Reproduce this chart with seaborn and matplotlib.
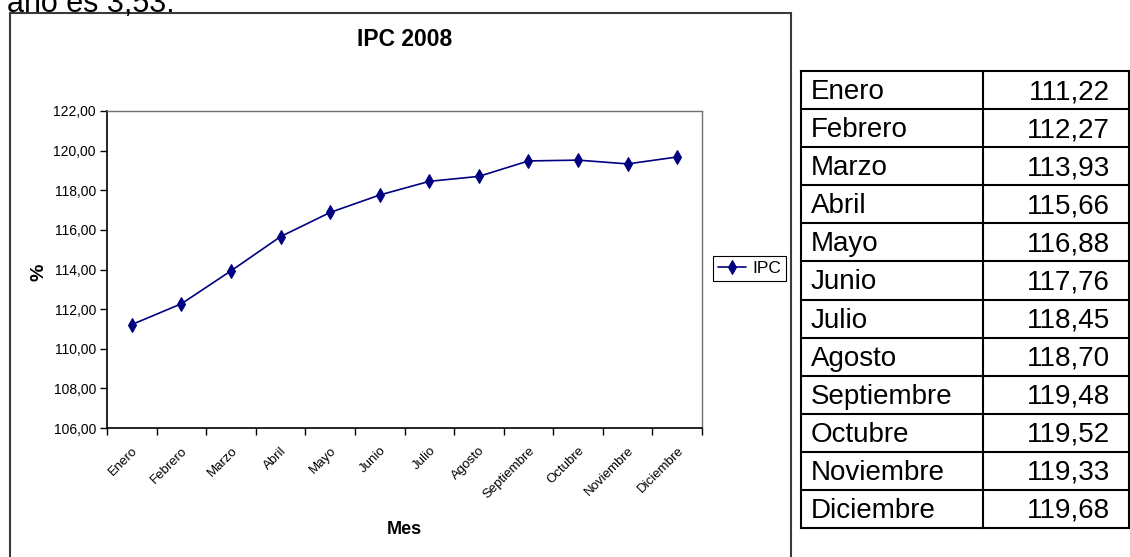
import numpy as np
import pandas as pd
import matplotlib
matplotlib.use("Agg")
import matplotlib.pyplot as plt
import seaborn as sns
from matplotlib import font_manager as fm
from matplotlib.patches import Rectangle
from matplotlib.transforms import ScaledTranslation

# Monthly consumer price index, 2008
meses = ["Enero", "Febrero", "Marzo", "Abril", "Mayo", "Junio", "Julio",
         "Agosto", "Septiembre", "Octubre", "Noviembre", "Diciembre"]
ipc = [111.22, 112.27, 113.93, 115.66, 116.88, 117.76, 118.45,
       118.70, 119.48, 119.52, 119.33, 119.68]
y_ticks = [106, 108, 110, 112, 114, 116, 118, 120, 122]


def coma(v):
    return f"{v:.2f}".replace(".", ",")


y_tick_labels = [coma(v) for v in y_ticks]
ipc_labels = [coma(v) for v in ipc]

sns.set_style("white")
plt.rcParams["font.family"] = ["Liberation Sans", "DejaVu Sans"]
plt.rcParams["text.color"] = "black"
plt.rcParams["axes.labelcolor"] = "black"
plt.rcParams["xtick.color"] = "black"
plt.rcParams["ytick.color"] = "black"
names = {f.name for f in fm.fontManager.ttflist}
NARROW = "Liberation Sans Narrow" if "Liberation Sans Narrow" in names else "Liberation Sans"
TABLE_FONT = ["Liberation Sans", "DejaVu Sans"]

W, H = 1130, 557
fig = plt.figure(figsize=(W / 100, H / 100), dpi=100)
fig.patch.set_facecolor("white")


def fx(px):
    return px / W


def fy(py):
    return 1 - py / H


# text line cut off at the top of the page
fig.text(fx(175), fy(11.5), "año es 3,53.", ha="right", va="baseline",
         fontsize=22, family=TABLE_FONT)

# frame around the embedded chart
fig.patches.append(Rectangle((fx(10), fy(620)), fx(791) - fx(10), fy(13) - fy(620),
                             transform=fig.transFigure, fill=False,
                             edgecolor="#3a3a3a", lw=1.5))

ax = fig.add_axes([fx(107), fy(428), fx(702) - fx(107), fy(111) - fy(428)])
df = pd.DataFrame({"Mes": meses, "IPC": ipc})
sns.lineplot(data=df, x="Mes", y="IPC", sort=False, ax=ax, color="#000080",
             marker="d", markersize=7.5, markeredgecolor="#000080",
             markerfacecolor="#000080", linewidth=1.2, label="IPC")

ax.set_xlim(-0.5, len(meses) - 0.5)
ax.set_ylim(y_ticks[0], y_ticks[-1])
ax.set_yticks(y_ticks)
ax.set_yticklabels(y_tick_labels, fontsize=10)
ax.set_xticks(range(len(meses)))
ax.set_xticklabels(meses, rotation=45, ha="right", va="top",
                   rotation_mode="anchor", fontsize=9.5)
shift = ScaledTranslation(-5 / 100, -2 / 100, fig.dpi_scale_trans)
for lab in ax.get_xticklabels():
    lab.set_transform(lab.get_transform() + shift)
ax.set_xticks(np.arange(-0.5, len(meses), 1), minor=True)
ax.tick_params(axis="x", which="major", length=0, pad=12, bottom=True)
ax.tick_params(axis="x", which="minor", length=5, width=1, direction="out",
               color="black", bottom=True)
ax.tick_params(axis="y", length=5, width=1, direction="out", color="black",
               pad=3, left=True)

for side in ("left", "bottom"):
    ax.spines[side].set_color("black")
    ax.spines[side].set_linewidth(1.2)
for side in ("top", "right"):
    ax.spines[side].set_color("#707070")
    ax.spines[side].set_linewidth(1.0)

ax.set_title("IPC 2008", fontsize=16.5, fontweight="bold", family=NARROW,
             y=(428 - 48) / 317, va="center", color="black")
ax.set_xlabel("Mes", fontsize=13, fontweight="bold", family=NARROW, va="center")
ax.xaxis.set_label_coords((404 - 107) / 595, (428 - 530) / 317)
ax.set_ylabel("%", fontsize=14, fontweight="bold", family=NARROW, va="center")
ax.yaxis.set_label_coords((38.5 - 107) / 595, (428 - 272) / 317)

leg = ax.legend(loc="center left", bbox_to_anchor=(fx(713), fy(268.5)),
                bbox_transform=fig.transFigure, frameon=True, fancybox=False,
                edgecolor="black", framealpha=1, borderpad=0.3,
                borderaxespad=0, handlelength=1.6, handletextpad=0.35,
                prop={"family": NARROW, "size": 12.5})
leg.get_frame().set_linewidth(0.8)

# value table on the right
axt = fig.add_axes([fx(801), fy(528), fx(1129) - fx(801), fy(71) - fy(528)])
axt.set_xlim(0, 1)
axt.set_ylim(len(meses), 0)
axt.axis("off")
col_split = (983 - 801) / (1129 - 801)
for i in range(len(meses) + 1):
    axt.plot([0, 1], [i, i], color="black", lw=1.5, clip_on=False,
             solid_capstyle="projecting")
for xv in (0, col_split, 1):
    axt.plot([xv, xv], [0, len(meses)], color="black", lw=1.5, clip_on=False,
             solid_capstyle="projecting")
base_off = 9 / ((528 - 71) / len(meses))
for i, (m, lab) in enumerate(zip(meses, ipc_labels)):
    axt.text((811 - 801) / (1129 - 801), i + 0.5 + base_off, m, ha="left",
             va="baseline", fontsize=20, family=TABLE_FONT)
    axt.text((1110 - 801) / (1129 - 801), i + 0.5 + base_off, lab, ha="right",
             va="baseline", fontsize=20, family=TABLE_FONT)

fig.savefig("out.png", dpi=100, facecolor="white")
